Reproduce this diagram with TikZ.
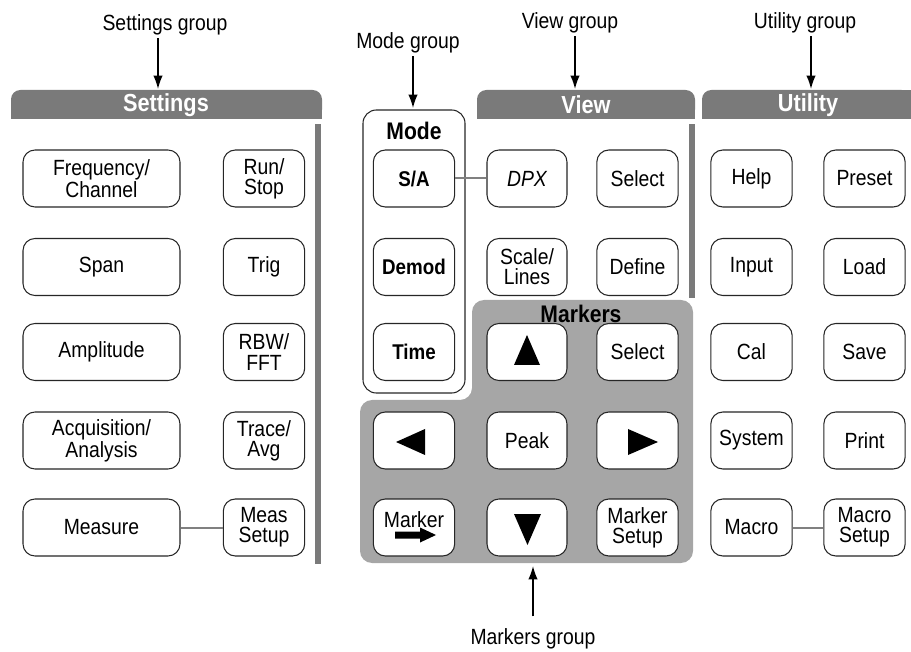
\documentclass[tikz,border=0pt]{standalone}
\usepackage{fontspec}
\setmainfont[FakeStretch=0.88]{Liberation Sans}
\usetikzlibrary{arrows.meta}
\definecolor{hdrgray}{HTML}{7A7A7A}
\definecolor{mkgray}{HTML}{A6A6A6}
\definecolor{lngray}{HTML}{808080}
\begin{document}
\begin{tikzpicture}[x=0.75pt,y=-0.75pt,
  btn/.style={draw=black!85, line width=0.8pt, fill=white, rounded corners=9pt,
    minimum height=42.75pt, minimum width=61pt, inner sep=0pt, align=center,
    font=\fontsize{16.5}{15.2}\selectfont},
  widebtn/.style={btn, minimum width=117.75pt},
  bbtn/.style={btn, font=\fontsize{16}{15.2}\selectfont\bfseries},
  hdr/.style={fill=hdrgray},
  hdrtxt/.style={text=white, font=\fontsize{18.5}{20}\selectfont\bfseries, inner sep=0pt},
  grptxt/.style={text=black, font=\fontsize{18}{20}\selectfont\bfseries, inner sep=0pt},
  lbl/.style={font=\fontsize{16.5}{18}\selectfont, inner sep=2pt},
  conn/.style={draw=lngray, line width=1.5pt},
  arr/.style={draw=black, line width=1.1pt, -{Latex[length=10pt,width=7pt]}},
  tri/.style={fill=black}]
\useasboundingbox (0,0) rectangle (911,652);

% Markers region
\fill[mkgray, rounded corners=9pt] (360,400) -- (472,400) -- (472,300) -- (693,300) -- (693,563) -- (360,563) -- cycle;

% Header bars
\fill[hdr, rounded corners=7pt] (11,90) rectangle (322,119);
\fill[hdr] (11,105) rectangle (322,119);
\fill[hdr, rounded corners=7pt] (477,90) rectangle (695,119);
\fill[hdr] (477,105) rectangle (695,119);
\fill[hdr, rounded corners=7pt] (702,90) rectangle (911,119);
\fill[hdr] (702,105) rectangle (911,119);
\fill[hdr] (880,90) rectangle (911,119);
\node[hdrtxt] (sethdr) at (166,105) {Settings};
\node[hdrtxt] (viewhdr) at (586,105) {View};
\node[hdrtxt] (utilhdr) at (808,105) {Utility};

% vertical bars
\fill[hdr] (315,124) rectangle (321,564);
\fill[hdr] (689,124) rectangle (695,298);

% Mode box
\node[draw=black!85, line width=0.8pt, rounded corners=10pt, minimum width=76.5pt,
  minimum height=212.25pt, inner sep=0pt] (modebox) at (414,251.5) {};
\node[grptxt] (modelbl) at (414,131) {Mode};
\node[grptxt] (mklbltop) at (581,314) {Markers};

% Settings buttons
\node[widebtn] (freq) at (101.5,178.5) {Frequency/\\Channel};
\node[btn] (run) at (264,178.5) {Run/\\Stop};
\node[widebtn] (span) at (101.5,267) {Span};
\node[btn] (trig) at (264,267) {Trig};
\node[widebtn] (ampl) at (101.5,352) {Amplitude};
\node[btn] (rbw) at (264,352) {RBW/\\FFT};
\node[widebtn] (acq) at (101.5,440.5) {Acquisition/\\Analysis};
\node[btn] (trace) at (264,440.5) {Trace/\\Avg};
\node[widebtn] (meas) at (101.5,527.5) {Measure};
\node[btn] (meassetup) at (264,527.5) {Meas\\Setup};

% Mode buttons
\node[bbtn] (sa) at (414,178.5) {S/A};
\node[bbtn] (demod) at (414,267) {Demod};
\node[bbtn] (time) at (414,352) {Time};

% View buttons
\node[btn, minimum width=60pt] (dpx) at (527,178.5) {\itshape DPX};
\node[btn] (vsel) at (637.5,178.5) {Select};
\node[btn, minimum width=60pt] (scale) at (527,267) {Scale/\\Lines};
\node[btn] (define) at (637.5,267) {Define};

% Markers buttons
\node[btn, minimum width=60pt] (up) at (527,352) {};
\node[btn] (msel) at (637.5,352) {Select};
\node[btn] (left) at (414,440.5) {};
\node[btn, minimum width=60pt] (peak) at (527,440.5) {Peak};
\node[btn] (right) at (637.5,440.5) {};
\node[btn] (mkr) at (414,527.5) {};
\node[btn, minimum width=60pt] (down) at (527,527.5) {};
\node[btn] (mkrsetup) at (637.5,527.5) {Marker\\Setup};
\node[font=\fontsize{16.5}{14.5}\selectfont, inner sep=0pt] (mkrtxt) at (414,520) {Marker};

% triangles
\fill[tri] (514,365) -- (540,365) -- (527,335) -- cycle;
\fill[tri] (514,514) -- (541,514) -- (527.5,545) -- cycle;
\fill[tri] (396,442) -- (425,429) -- (425,455) -- cycle;
\fill[tri] (658,442) -- (628,429) -- (628,455) -- cycle;
% block arrow in Marker button
\fill[tri] (395,531.5) -- (420,531.5) -- (420,527.5) -- (436,535) -- (420,542.5) -- (420,538.5) -- (395,538.5) -- cycle;

% Utility buttons
\node[btn] (help) at (751.5,178.5) {Help};
\node[btn] (preset) at (864.5,178.5) {Preset};
\node[btn] (input) at (751.5,267) {Input};
\node[btn] (load) at (864.5,267) {Load};
\node[btn] (cal) at (751.5,352) {Cal};
\node[btn] (save) at (864.5,352) {Save};
\node[btn] (system) at (751.5,440.5) {System};
\node[btn] (print) at (864.5,440.5) {Print};
\node[btn] (macro) at (751.5,527.5) {Macro};
\node[btn] (macrosetup) at (864.5,527.5) {Macro\\Setup};

% connectors
\draw[conn] (sa) -- (dpx);
\draw[conn] (meas) -- (meassetup);
\draw[conn] (macro) -- (macrosetup);

% group labels and arrows
\node[lbl] (setlbl) at (165,25) {Settings group};
\coordinate (setin) at (158,89);
\draw[arr] (setlbl.south -| setin) -- (setin);
\node[lbl] (modegrp) at (408,43) {Mode group};
\coordinate (modein) at (413,108);
\draw[arr] (modegrp.south -| modein) -- (modein);
\node[lbl] (viewgrp) at (570,23) {View group};
\coordinate (viewin) at (575,89);
\draw[arr] (viewgrp.south -| viewin) -- (viewin);
\node[lbl] (utilgrp) at (805,23) {Utility group};
\coordinate (utilin) at (811,89);
\draw[arr] (utilgrp.south -| utilin) -- (utilin);
\node[lbl] (mkgrp) at (533,639) {Markers group};
\coordinate (mkin) at (533,566);
\draw[arr] ([yshift=7pt]mkgrp.north) -- (mkin);
\end{tikzpicture}
\end{document}
